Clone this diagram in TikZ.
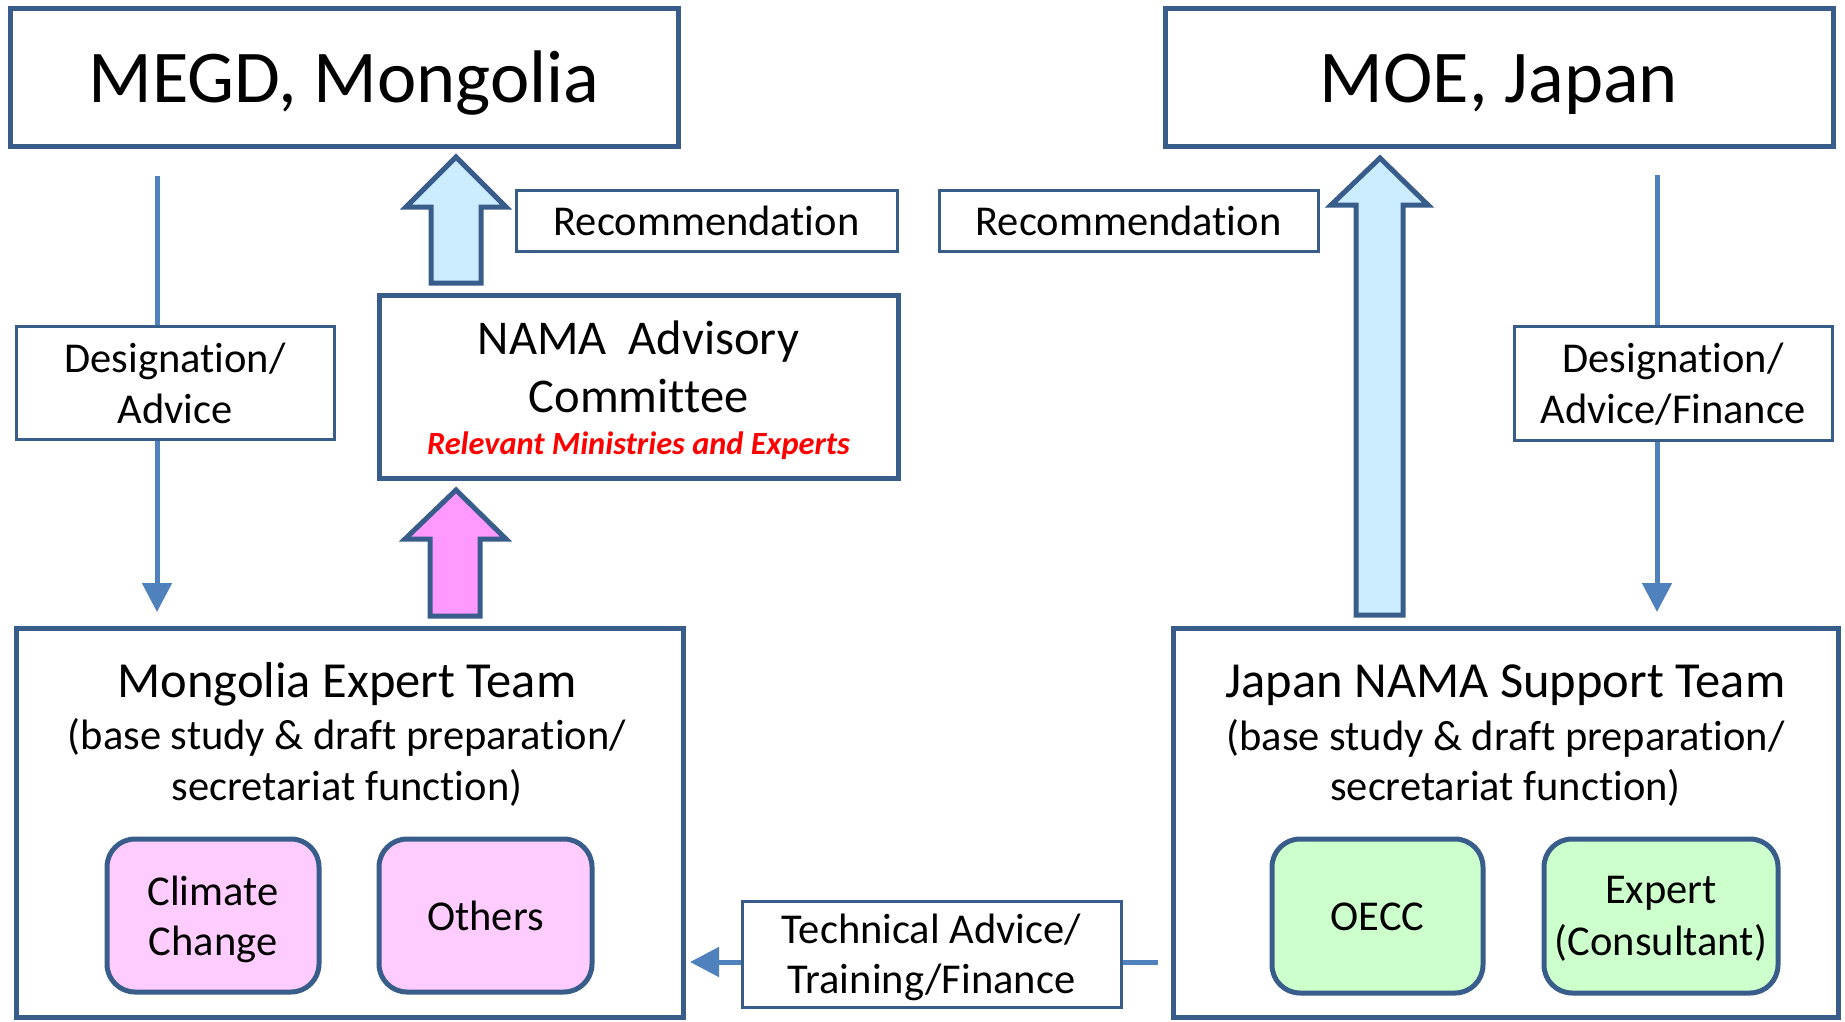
\documentclass[tikz,border=0pt]{standalone}
\usepackage{fontspec}
\setmainfont{Carlito}[Ligatures={NoCommon}]
\usetikzlibrary{arrows.meta}
\definecolor{bord}{HTML}{385D8A}
\definecolor{arr}{HTML}{4F81BD}
\definecolor{lblue}{HTML}{CCECFF}
\definecolor{pinkarr}{HTML}{FF99FF}
\definecolor{pinkbox}{HTML}{FFCCFF}
\definecolor{greenbox}{HTML}{CCFFCC}
\definecolor{redtxt}{HTML}{FF0000}
\begin{document}
\begin{tikzpicture}[x=1pt,y=-1pt,
  bigbox/.style={draw=bord,line width=5pt,fill=white,inner sep=0pt,outer sep=0pt,rectangle},
  lblbox/.style={draw=bord,line width=3pt,fill=white,inner sep=0pt,outer sep=0pt,rectangle},
  rbox/.style={draw=bord,line width=5pt,inner sep=0pt,outer sep=0pt,rectangle,rounded corners=28pt},
  thinarrow/.style={draw=arr,line width=5pt,-{Triangle[length=29pt,width=29pt]}},
  blockarrow/.style={draw=bord,line width=5pt,line join=miter},
  txt/.style={inner sep=0pt,anchor=base},
  ttl/.style={txt,font=\fontsize{74.5}{80}\selectfont},
  lbl/.style={txt,font=\fontsize{42.5}{50}\selectfont},
  team/.style={txt,font=\fontsize{50.5}{58}\selectfont},
  namat/.style={txt,font=\fontsize{48.5}{58}\selectfont},
  redt/.style={txt,font=\fontsize{32.4}{40}\selectfont\bfseries\itshape,text=redtxt}]
\useasboundingbox (0,0) rectangle (1845,1021);

% coordinates for thin connectors
\coordinate (la1) at (157,176);
\coordinate (la2) at (157,612);
\coordinate (ra1) at (1657,175);
\coordinate (ra2) at (1657,612);
\coordinate (ta1) at (1158,962);
\coordinate (ta2) at (690,962);

\draw[thinarrow] (la1) -- (la2);
\draw[thinarrow] (ra1) -- (ra2);
\draw[thinarrow] (ta1) -- (ta2);

% main boxes
\node[bigbox,minimum width=668pt,minimum height=138pt] (megd) at (344,77) {};
\node[bigbox,minimum width=668pt,minimum height=138pt] (moe) at (1499,77) {};
\node[bigbox,minimum width=519pt,minimum height=183pt] (nama) at (638.5,386.5) {};
\node[bigbox,minimum width=667pt,minimum height=389pt] (mexp) at (349.5,822.5) {};
\node[bigbox,minimum width=665pt,minimum height=389pt] (jnst) at (1505.5,822.5) {};

% label boxes
\node[lblbox,minimum width=318pt,minimum height=113pt] (des1) at (175,382.5) {};
\node[lblbox,minimum width=318pt,minimum height=114pt] (des2) at (1673,383) {};
\node[lblbox,minimum width=381pt,minimum height=61pt] (rec1) at (706.5,220.5) {};
\node[lblbox,minimum width=379pt,minimum height=61pt] (rec2) at (1128.5,220.5) {};
\node[lblbox,minimum width=379pt,minimum height=106pt] (tech) at (931.5,954) {};

% rounded boxes
\node[rbox,fill=pinkbox,minimum width=212pt,minimum height=153pt] (cc) at (213,915.5) {};
\node[rbox,fill=pinkbox,minimum width=213pt,minimum height=153pt] (oth) at (485.5,915.5) {};
\node[rbox,fill=greenbox,minimum width=211pt,minimum height=154pt] (oecc) at (1377.5,916) {};
\node[rbox,fill=greenbox,minimum width=234pt,minimum height=154pt] (expt) at (1661,916) {};

% block arrows
\filldraw[blockarrow,fill=lblue] (431,283) -- (431,207) -- (406,207) -- (456,157) -- (506,207) -- (481,207) -- (481,283) -- cycle;
\filldraw[blockarrow,fill=pinkarr] (430,616) -- (430,539) -- (405,539) -- (456,490) -- (506,539) -- (480,539) -- (480,616) -- cycle;
\filldraw[blockarrow,fill=lblue] (1356,615) -- (1356,205) -- (1331,205) -- (1380,158) -- (1428,205) -- (1403,205) -- (1403,615) -- cycle;

% texts
\node[ttl] (tmegd) at (344,102) {MEGD, Mongolia};
\node[ttl] (tmoe) at (1499,102) {MOE, Japan};
\node[lbl] (trec1) at (706.5,235) {Recommendation};
\node[lbl] (trec2) at (1128.5,235) {Recommendation};
\node[lbl] (tdes1a) at (175,372) {Designation/};
\node[lbl] (tdes1b) at (175,423) {Advice};
\node[lbl] (tdes2a) at (1673,372) {Designation/};
\node[lbl] (tdes2b) at (1673,423) {Advice/Finance};
\node[namat] (tnama1) at (638.5,354) {NAMA~ Advisory};
\node[namat] (tnama2) at (638.5,412) {Committee};
\node[redt] (tnama3) at (638.5,454) {Relevant Ministries and Experts};
\node[team] (tmexp1) at (347,697) {Mongolia Expert Team};
\node[lbl] (tmexp2) at (347,749) {(base study \& draft preparation/};
\node[lbl] (tmexp3) at (347,800) {secretariat function)};
\node[team] (tjnst1) at (1505.5,697) {Japan NAMA Support Team};
\node[lbl] (tjnst2) at (1505.5,750) {(base study \& draft preparation/};
\node[lbl] (tjnst3) at (1505.5,800) {secretariat function)};
\node[lbl] (tcc1) at (213,905) {Climate};
\node[lbl] (tcc2) at (213,955) {Change};
\node[lbl] (toth) at (485.5,930) {Others};
\node[lbl] (toecc) at (1377.5,930) {OECC};
\node[lbl] (texpt1) at (1661,903) {Expert};
\node[lbl] (texpt2) at (1661,955) {(Consultant)};
\node[lbl] (ttech1) at (931.5,943) {Technical Advice/};
\node[lbl] (ttech2) at (931.5,993) {Training/Finance};
\end{tikzpicture}
\end{document}
